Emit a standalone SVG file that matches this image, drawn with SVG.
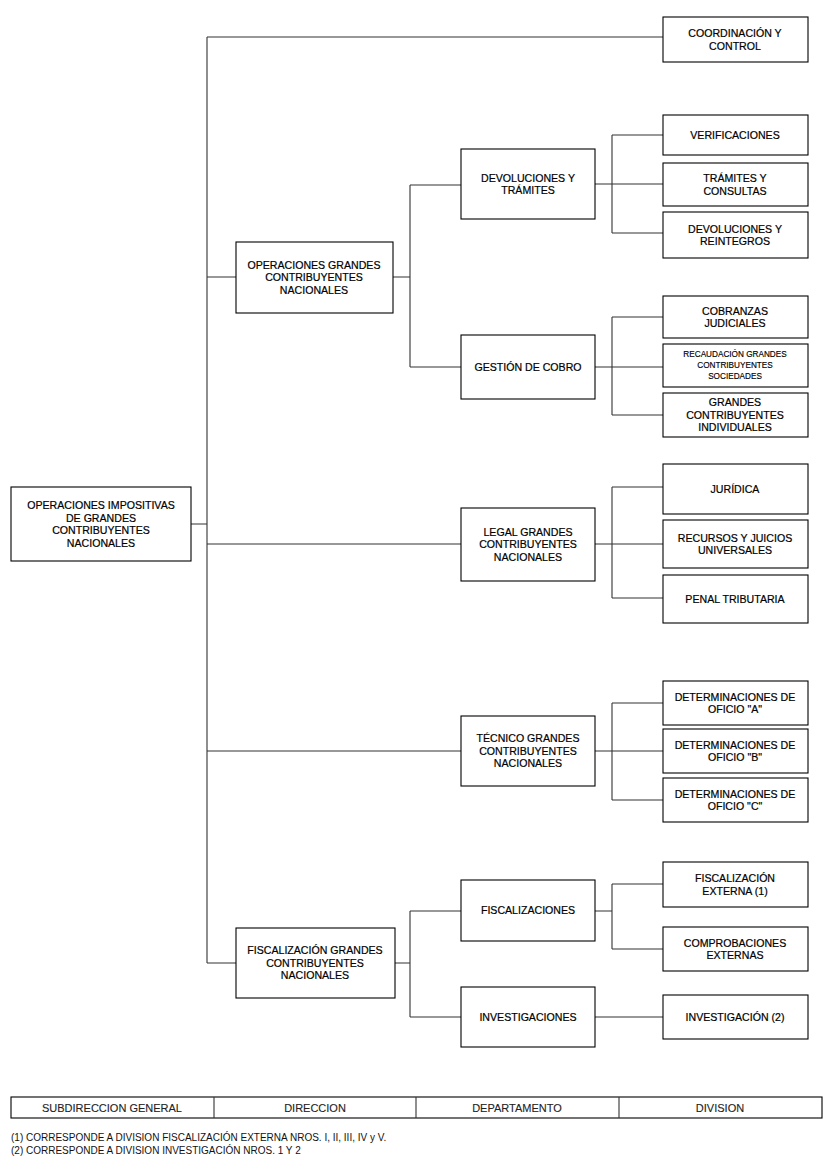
<svg xmlns="http://www.w3.org/2000/svg" width="826" height="1169" viewBox="0 0 826 1169">
<style>
.b{fill:#fff;stroke:#000;stroke-width:1.1}
.t{font-family:"Liberation Sans",Arial,sans-serif;font-size:10.6px;fill:#000;stroke:#000;stroke-width:0.2;text-anchor:middle}
.s{font-size:8.2px;stroke-width:0.15}
.g{font-size:11px;fill:#222;stroke:#222;stroke-width:0.1}
.c{fill:none;stroke:#333;stroke-width:1.1}
.f{font-family:"Liberation Sans",Arial,sans-serif;font-size:10px;fill:#111}
</style>
<rect width="826" height="1169" fill="#fff"/>
<g id="connectors">
<path class="c" d="M207 37H663M207 37V963M191 524H207M207 277H236M393 277H410M410 185V367M410 185H461M410 367H461M595 184H663M612 135V233M612 135H663M612 233H663M595 367H663M612 317V415M612 317H663M612 415H663M207 544H461M595 544H663M612 487V598M612 487H663M612 598H663M207 751H461M595 751H663M612 703V800M612 703H663M612 800H663M207 963H236M395 963H410M410 911V1017M410 911H461M410 1017H461M595 911H612M612 884V949M612 884H663M612 949H663M595 1017H663"/>
</g>
<g id="root"><rect class="b" x="11" y="487" width="180" height="74"/><text class="t" x="101" y="509">OPERACIONES IMPOSITIVAS</text><text class="t" x="101" y="521.5">DE GRANDES</text><text class="t" x="101" y="534">CONTRIBUYENTES</text><text class="t" x="101" y="546.5">NACIONALES</text></g>
<g id="coordinacion"><rect class="b" x="663" y="17" width="145" height="45"/><text class="t" x="735" y="37">COORDINACIÓN Y</text><text class="t" x="735" y="49.5">CONTROL</text></g>
<g id="operaciones"><rect class="b" x="236" y="242" width="157" height="71"/><text class="t" x="314" y="268.8">OPERACIONES GRANDES</text><text class="t" x="314" y="281.3">CONTRIBUYENTES</text><text class="t" x="314" y="293.8">NACIONALES</text></g>
<g id="devtram"><rect class="b" x="461" y="149" width="134" height="70"/><text class="t" x="528" y="181.5">DEVOLUCIONES Y</text><text class="t" x="528" y="194">TRÁMITES</text></g>
<g id="verificaciones"><rect class="b" x="663" y="115" width="145" height="40"/><text class="t" x="735" y="138.8">VERIFICACIONES</text></g>
<g id="tramcons"><rect class="b" x="663" y="163" width="145" height="43"/><text class="t" x="735" y="182">TRÁMITES Y</text><text class="t" x="735" y="194.5">CONSULTAS</text></g>
<g id="devreint"><rect class="b" x="663" y="212" width="145" height="46"/><text class="t" x="735" y="232.5">DEVOLUCIONES Y</text><text class="t" x="735" y="245">REINTEGROS</text></g>
<g id="gestion"><rect class="b" x="461" y="335" width="134" height="64"/><text class="t" x="528" y="370.8">GESTIÓN DE COBRO</text></g>
<g id="cobranzas"><rect class="b" x="663" y="296" width="145" height="42"/><text class="t" x="735" y="314.5">COBRANZAS</text><text class="t" x="735" y="327">JUDICIALES</text></g>
<g id="recaudacion"><rect class="b" x="663" y="344" width="145" height="43"/><text class="t s" x="735" y="357.4">RECAUDACIÓN GRANDES</text><text class="t s" x="735" y="368.4">CONTRIBUYENTES</text><text class="t s" x="735" y="379.4">SOCIEDADES</text></g>
<g id="individuales"><rect class="b" x="663" y="393" width="145" height="44"/><text class="t" x="735" y="406.3">GRANDES</text><text class="t" x="735" y="418.8">CONTRIBUYENTES</text><text class="t" x="735" y="431.3">INDIVIDUALES</text></g>
<g id="legal"><rect class="b" x="461" y="508" width="134" height="73"/><text class="t" x="528" y="535.8">LEGAL GRANDES</text><text class="t" x="528" y="548.3">CONTRIBUYENTES</text><text class="t" x="528" y="560.8">NACIONALES</text></g>
<g id="juridica"><rect class="b" x="663" y="464" width="145" height="50"/><text class="t" x="735" y="492.8">JURÍDICA</text></g>
<g id="recursos"><rect class="b" x="663" y="520" width="145" height="48"/><text class="t" x="735" y="541.5">RECURSOS Y JUICIOS</text><text class="t" x="735" y="554">UNIVERSALES</text></g>
<g id="penal"><rect class="b" x="663" y="575" width="145" height="48"/><text class="t" x="735" y="602.8">PENAL TRIBUTARIA</text></g>
<g id="tecnico"><rect class="b" x="461" y="716" width="134" height="70"/><text class="t" x="528" y="742.3">TÉCNICO GRANDES</text><text class="t" x="528" y="754.8">CONTRIBUYENTES</text><text class="t" x="528" y="767.3">NACIONALES</text></g>
<g id="detA"><rect class="b" x="663" y="681" width="145" height="44"/><text class="t" x="735" y="700.5">DETERMINACIONES DE</text><text class="t" x="735" y="713">OFICIO "A"</text></g>
<g id="detB"><rect class="b" x="663" y="729" width="145" height="44"/><text class="t" x="735" y="748.5">DETERMINACIONES DE</text><text class="t" x="735" y="761">OFICIO "B"</text></g>
<g id="detC"><rect class="b" x="663" y="778" width="145" height="44"/><text class="t" x="735" y="797.5">DETERMINACIONES DE</text><text class="t" x="735" y="810">OFICIO "C"</text></g>
<g id="fiscgcn"><rect class="b" x="236" y="928" width="159" height="70"/><text class="t" x="315" y="954.3">FISCALIZACIÓN GRANDES</text><text class="t" x="315" y="966.8">CONTRIBUYENTES</text><text class="t" x="315" y="979.3">NACIONALES</text></g>
<g id="fiscalizaciones"><rect class="b" x="461" y="880" width="134" height="61"/><text class="t" x="528" y="914.3">FISCALIZACIONES</text></g>
<g id="investigaciones"><rect class="b" x="461" y="987" width="134" height="60"/><text class="t" x="528" y="1020.8">INVESTIGACIONES</text></g>
<g id="fiscext"><rect class="b" x="663" y="862" width="145" height="45"/><text class="t" x="735" y="882">FISCALIZACIÓN</text><text class="t" x="735" y="894.5">EXTERNA (1)</text></g>
<g id="comprob"><rect class="b" x="663" y="927" width="145" height="44"/><text class="t" x="735" y="946.5">COMPROBACIONES</text><text class="t" x="735" y="959">EXTERNAS</text></g>
<g id="investigacion"><rect class="b" x="663" y="995" width="145" height="44"/><text class="t" x="735" y="1020.8">INVESTIGACIÓN (2)</text></g>
<g id="legend">
<rect class="b" x="11" y="1097" width="811" height="21"/>
<path class="c" d="M214 1097V1118M416 1097V1118M619 1097V1118"/>
<text class="t g" x="112" y="1111.5">SUBDIRECCION GENERAL</text>
<text class="t g" x="315" y="1111.5">DIRECCION</text>
<text class="t g" x="517" y="1111.5">DEPARTAMENTO</text>
<text class="t g" x="720" y="1111.5">DIVISION</text>
</g>
<g id="notes">
<text class="f" x="11" y="1141">(1) CORRESPONDE A DIVISION FISCALIZACIÓN EXTERNA  NROS. I, II, III, IV y V.</text>
<text class="f" x="11" y="1154">(2) CORRESPONDE A DIVISION INVESTIGACIÓN  NROS. 1 Y  2</text>
</g>
</svg>
